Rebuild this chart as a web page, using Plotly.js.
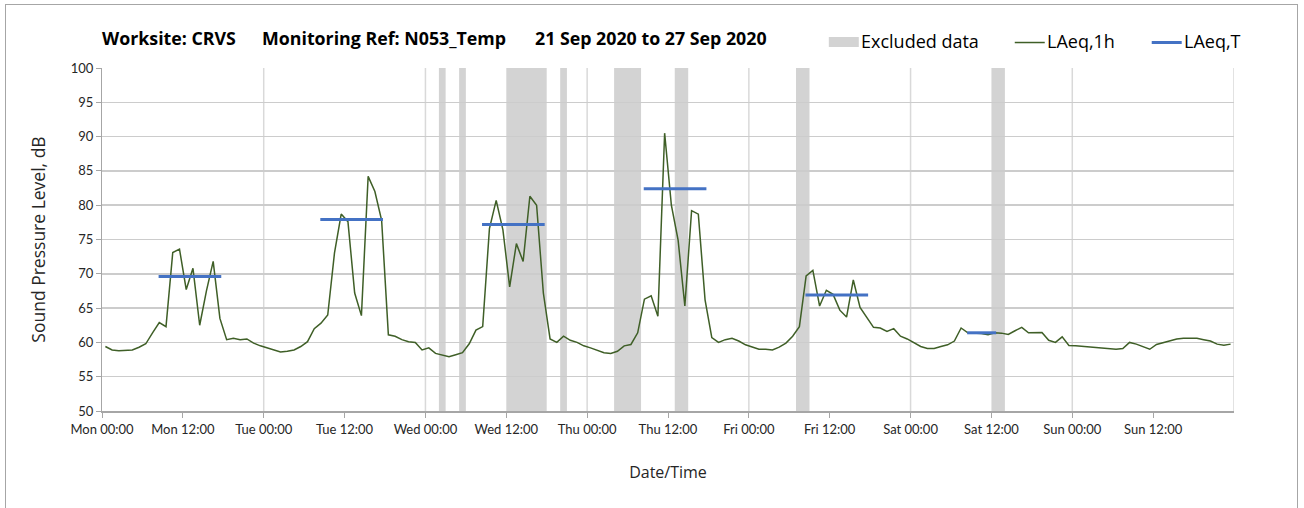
<!DOCTYPE html>
<html><head><meta charset="utf-8">
<script src="https://cdn.plot.ly/plotly-3.0.1.min.js"></script>
<style>
html,body{margin:0;padding:0;background:#fff;}
#wrap{position:relative;width:1304px;height:508px;overflow:hidden;}
#chart{position:absolute;left:0;top:0;width:1304px;height:508px;}
#frame{position:absolute;left:5px;top:4px;width:1291px;height:530px;border:1px solid #a6a6a6;pointer-events:none;}
</style>
</head><body>
<div id="wrap"><div id="chart"></div><div id="frame"></div></div>
<script>
// LAeq,1h hourly values, Mon 21 Sep 2020 00:00 .. Sun 27 Sep 2020 23:00 (one per hour)
const laeq1h = [
  59.4,58.9,58.8,58.8,58.9,59.3,59.8,61.4,62.9,62.3,73.1,73.6,67.7,70.8,62.5,67.5,71.8,63.5,60.4,60.6,60.4,60.5,59.9,59.5,
  59.2,58.9,58.6,58.7,58.9,59.4,60.1,62.0,62.8,64.0,73.0,78.7,77.6,67.2,63.9,84.2,82.0,77.8,61.1,60.9,60.4,60.1,60.0,58.9,
  59.2,58.4,58.1,57.9,58.2,58.5,59.8,61.8,62.3,76.6,80.7,76.4,68.1,74.4,71.8,81.3,80.0,67.2,60.5,60.0,60.9,60.3,60.0,59.5,
  59.2,58.9,58.5,58.4,58.7,59.5,59.7,61.4,66.3,66.8,63.8,90.5,80.0,74.9,65.3,79.2,78.7,66.2,60.7,60.0,60.4,60.6,60.2,59.65,
  59.3,59.0,59.0,58.9,59.3,59.9,60.9,62.3,69.7,70.5,65.3,67.6,67.0,64.7,63.7,69.1,65.1,63.7,62.2,62.1,61.6,62.0,60.9,60.5,
  59.9,59.4,59.1,59.1,59.4,59.65,60.2,62.1,61.4,61.35,61.3,61.1,61.4,61.35,61.15,61.7,62.2,61.4,61.4,61.45,60.3,60.0,60.8,59.55,
  59.5,59.4,59.3,59.2,59.2,59.1,59.0,59.1,60.0,59.75,59.4,59.0,59.7,60.0,60.2,60.5,60.6,60.6,60.6,60.4,60.2,59.75,59.6,59.75
];
// hours since Mon 00:00
const tickHours = [0,12,24,36,48,60,72,84,96,108,120,132,144,156];
const tickLabels = ['Mon 00:00','Mon 12:00','Tue 00:00','Tue 12:00','Wed 00:00','Wed 12:00','Thu 00:00','Thu 12:00',
                    'Fri 00:00','Fri 12:00','Sat 00:00','Sat 12:00','Sun 00:00','Sun 12:00'];
const excludedStart = [50,53,60,68,76,85,103,132];
const excludedEnd   = [51,54,66,69,80,87,105,134];
const periodStart = [8.4,32.4,56.4,80.4,104.4,128.4];
const periodEnd   = [17.7,41.7,65.7,89.7,113.7,132.7];
const periodLevel = [69.6,77.9,77.2,82.4,66.9,61.4];

const FONT = 'Lato, "Open Sans", sans-serif';
const FONT2 = '"Open Sans", Lato, sans-serif';
const GREEN = '#3f5f27', BLUE = '#4472c4', GREY = '#d3d3d3', GRID = '#cccccc';
const W = 1304, H = 508, L = 102, R = 1234.3, T = 68, B = 411.3;
const px = x => (x - L) / (R - L);
const py = y => (B - y) / (B - T);

const hours = laeq1h.map((v, i) => i + 0.5);
const tx = [], ty = [];
periodStart.forEach((s, k) => { tx.push(s, periodEnd[k], null); ty.push(periodLevel[k], periodLevel[k], null); });

const shapes = [];
excludedStart.forEach((s, k) => shapes.push({type:'rect', xref:'x', yref:'y', x0:s, x1:excludedEnd[k], y0:50, y1:100,
  fillcolor:GREY, line:{width:0}, layer:'below'}));
for (let d = 24; d <= 168; d += 24) shapes.push({type:'line', xref:'x', yref:'y', x0:d, x1:d, y0:50, y1:100,
  line:{color:'#d9d9d9', width:1.5}, layer:'below'});
// legend marks
shapes.push({type:'rect', xref:'paper', yref:'paper', x0:px(829), x1:px(859), y0:py(47), y1:py(37), fillcolor:GREY, line:{width:0}});
shapes.push({type:'line', xref:'paper', yref:'paper', x0:px(1015), x1:px(1045), y0:py(42.5), y1:py(42.5), line:{color:GREEN, width:1.5}});
shapes.push({type:'line', xref:'paper', yref:'paper', x0:px(1152), x1:px(1182), y0:py(42.5), y1:py(42.5), line:{color:BLUE, width:3}});

const ann = (text, x, y, size, bold, fam) => ({text: bold ? '<b>' + text + '</b>' : text, xref:'paper', yref:'paper',
  x:px(x), y:py(y), xanchor:'left', yanchor:'middle', showarrow:false, font:{family:fam, size:size, color:'#000'}});
const annotations = [
  ann('Worksite: CRVS', 100, 38, 17.8, true, FONT2),
  ann('Monitoring Ref: N053_Temp', 260, 38, 17.8, true, FONT2),
  ann('21 Sep 2020 to 27 Sep 2020', 533, 38, 17.8, true, FONT2),
  ann('Excluded data', 859, 41, 18, false, FONT2),
  ann('LAeq,1h', 1045, 41, 18, false, FONT2),
  ann('LAeq,T', 1182, 41, 18, false, FONT2)
];

const data = [
  {x:hours, y:laeq1h, type:'scatter', mode:'lines', line:{color:GREEN, width:1.5}, name:'LAeq,1h', hoverinfo:'skip'},
  {x:tx, y:ty, type:'scatter', mode:'lines', line:{color:BLUE, width:3}, name:'LAeq,T', hoverinfo:'skip', connectgaps:false}
];

const layout = {
  width:W, height:H, margin:{l:L, r:W-R, t:T, b:H-B, pad:0},
  paper_bgcolor:'#fff', plot_bgcolor:'#fff', showlegend:false,
  font:{family:FONT, color:'#000'},
  xaxis:{range:[0,168], tickvals:tickHours, ticktext:tickLabels, ticks:'outside', ticklen:5, tickwidth:1, tickcolor:'#a6a6a6',
    showgrid:false, zeroline:false, showline:true, linecolor:'#a6a6a6', linewidth:2,
    tickfont:{family:FONT, size:13, color:'#262626'},
    title:{text:'Date/Time', font:{family:FONT2, size:16, color:'#262626'}, standoff:31}},
  yaxis:{range:[50,100], dtick:5, tick0:50, ticks:'outside', ticklen:5, tickwidth:1, tickcolor:'#a6a6a6',
    showgrid:true, gridcolor:GRID, gridwidth:1.5, zeroline:false, showline:true, linecolor:'#a6a6a6', linewidth:1,
    tickfont:{family:FONT, size:13, color:'#262626'},
    title:{text:'Sound Pressure Level, dB', font:{family:FONT2, size:17.5, color:'#262626'}, standoff:20}},
  shapes:shapes, annotations:annotations
};
Plotly.newPlot('chart', data, layout, {displayModeBar:false, staticPlot:true});
</script>
</body></html>
